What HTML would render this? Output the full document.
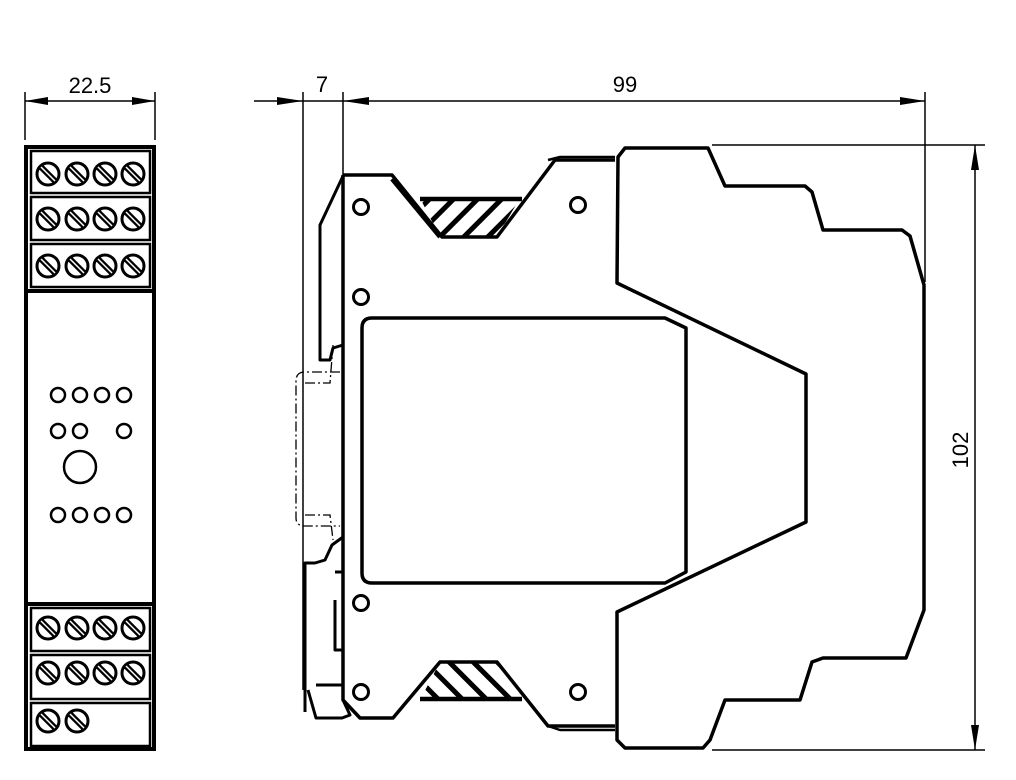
<!DOCTYPE html>
<html><head><meta charset="utf-8"><style>html,body{margin:0;padding:0;background:#fff}svg{display:block}</style></head>
<body>
<svg width="1016" height="780" viewBox="0 0 1016 780" xmlns="http://www.w3.org/2000/svg" font-family="Liberation Sans, sans-serif">
<defs>
<pattern id="h" width="17" height="17" patternUnits="userSpaceOnUse" patternTransform="rotate(45)">
<rect width="17" height="17" fill="#fff"/><rect x="0" width="5" height="17" fill="#000"/></pattern>
<pattern id="h2" width="17" height="17" patternUnits="userSpaceOnUse" patternTransform="rotate(-45)">
<rect width="17" height="17" fill="#fff"/><rect x="0" width="5" height="17" fill="#000"/></pattern>
<g id="scr"><circle r="11" fill="#fff" stroke="#000" stroke-width="3"/><line x1="-7" y1="-7" x2="7" y2="7" stroke="#000" stroke-width="6"/><line x1="-7" y1="-7" x2="7" y2="7" stroke="#fff" stroke-width="1.5"/></g>
</defs>
<g stroke="#000" fill="none">
<line x1="25" y1="92" x2="25" y2="140" stroke-width="1.5"/>
<line x1="155" y1="92" x2="155" y2="140" stroke-width="1.5"/>
<line x1="25" y1="101" x2="155" y2="101" stroke-width="1.5"/>
<path d="M25 101 L48 97 L48 105Z M155 101 L132 97 L132 105Z" fill="#000" stroke="none"/>
<rect x="26" y="147" width="128" height="602" stroke-width="4"/>
<g stroke-width="2.5">
<rect x="31" y="151" width="119" height="42"/>
<rect x="31" y="197" width="119" height="43"/>
<rect x="31" y="244" width="119" height="43"/>
<line x1="26" y1="291" x2="154" y2="291" stroke-width="4"/>
<line x1="26" y1="604" x2="154" y2="604" stroke-width="4"/>
<rect x="31" y="608" width="119" height="43"/>
<rect x="31" y="655" width="119" height="44"/>
<rect x="31" y="703" width="119" height="43"/>
</g>
<g stroke-width="2.5">
<circle cx="58" cy="395" r="7"/><circle cx="80" cy="395" r="7"/><circle cx="102" cy="395" r="7"/><circle cx="124" cy="395" r="7"/>
<circle cx="58" cy="431" r="7"/><circle cx="80" cy="431" r="7"/><circle cx="124" cy="431" r="7"/>
<circle cx="80" cy="467" r="16"/>
<circle cx="58" cy="515" r="7"/><circle cx="80" cy="515" r="7"/><circle cx="102" cy="515" r="7"/><circle cx="124" cy="515" r="7"/>
</g>
</g>
<g>
<use href="#scr" x="48" y="174"/><use href="#scr" x="77" y="174"/><use href="#scr" x="105" y="174"/><use href="#scr" x="133" y="174"/>
<use href="#scr" x="48" y="219"/><use href="#scr" x="77" y="219"/><use href="#scr" x="105" y="219"/><use href="#scr" x="133" y="219"/>
<use href="#scr" x="48" y="266"/><use href="#scr" x="77" y="266"/><use href="#scr" x="105" y="266"/><use href="#scr" x="133" y="266"/>
<use href="#scr" x="48" y="628"/><use href="#scr" x="77" y="628"/><use href="#scr" x="105" y="628"/><use href="#scr" x="133" y="628"/>
<use href="#scr" x="48" y="673"/><use href="#scr" x="77" y="673"/><use href="#scr" x="105" y="673"/><use href="#scr" x="133" y="673"/>
<use href="#scr" x="48" y="721"/><use href="#scr" x="77" y="721"/>
</g>
<text x="90" y="93" font-size="22" text-anchor="middle">22.5</text>

<g stroke="#000" fill="none" stroke-width="1.5">
<line x1="254" y1="101" x2="925" y2="101"/>
<line x1="303" y1="92" x2="303" y2="690"/>
<line x1="343" y1="92" x2="343" y2="175"/>
<line x1="925" y1="92" x2="925" y2="282"/>
<line x1="712" y1="145" x2="985" y2="145"/>
<line x1="712" y1="750" x2="985" y2="750"/>
<line x1="975" y1="145" x2="975" y2="750"/>
</g>
<path d="M303 101 L277 97 L277 105Z M343 101 L369 97 L369 105Z M925 101 L900 97 L900 105Z M975 145 L971 170 L979 170Z M975 750 L971 725 L979 725Z" fill="#000"/>
<text x="322" y="92" font-size="22" text-anchor="middle">7</text>
<text x="625" y="92" font-size="22" text-anchor="middle">99</text>
<text transform="translate(968,450) rotate(-90)" font-size="22" text-anchor="middle">102</text>

<g stroke="#000" fill="none" stroke-width="3.5" stroke-linejoin="round">
<path d="M420 198 L520 198 L497 237 L440 237Z" fill="url(#h)" stroke="none"/>
<path d="M420 700 L520 700 L497 662 L440 662Z" fill="url(#h2)" stroke="none"/>
<path d="M343 175 L343 700 L360 718 L393 718 L440 662 L497 662 L548 726 L615 726"/>
<path d="M343 175 L392 175 L442 237 L497 237 L555 160 L615 160"/>
<path d="M392 179 L440 237 M420 199 L522 199 M420 699 L522 699" stroke-width="4.5"/>
<path d="M548 160 L560 157 L615 157 M548 726 L560 730 L615 730" stroke-width="2.5"/>
<path d="M618 157 L625 148 L708 148 L725 186 L805 186 L812 192 L823 230 L902 230 L910 236 L924 285 L924 610 L906 658 L823 658 L812 662 L800 700 L725 700 L710 740 L703 748 L625 748 L617 740 L617 612 L806 522 L806 374 L617 283 Z"/>
<path d="M372 318 L665 318 L686 328 L686 572 L665 583 L372 583 Q362 583 362 573 L362 328 Q362 318 372 318Z"/>
<circle cx="361" cy="207" r="7.5" stroke-width="3"/>
<circle cx="578" cy="205" r="7.5" stroke-width="3"/>
<circle cx="361" cy="297" r="7.5" stroke-width="3"/>
<circle cx="361" cy="603" r="7.5" stroke-width="3"/>
<circle cx="361" cy="692" r="7.5" stroke-width="3"/>
<circle cx="578" cy="692" r="7.5" stroke-width="3"/>
<path d="M343 176 L320 225 L320 360 L330 360 L333 348 L343 345" stroke-width="3"/>
<path d="M343 537 L332 545 L325 560 L315 563 L305 563 L305 712 M335 600 L335 650 L343 650 M335 572 L343 572 M316 685 L343 685 L343 700 L350 715 L342 718 L316 718 L308 690" stroke-width="3"/>
</g>
<path d="M340 372 L305 372 Q296 372 296 381 L296 518 Q296 526 305 526 L340 526 M305 383 L330 383 L333 345 M305 515 L330 515 L333 540" stroke="#000" fill="none" stroke-width="1.3" stroke-dasharray="10 3 2 3"/>
</svg>
</body></html>
